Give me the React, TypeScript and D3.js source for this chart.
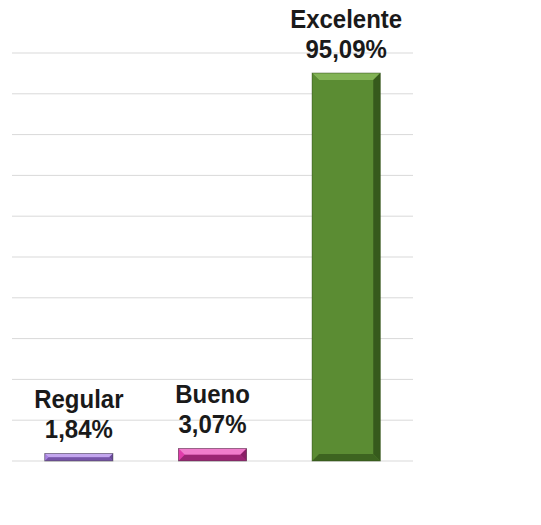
import React from "react";
import * as d3 from "d3";

const categories = ["Regular", "Bueno", "Excelente"];
const values = [1.84, 3.07, 95.09];
const valueLabels = ["1,84%", "3,07%", "95,09%"];
const gridTicks = [0, 10, 20, 30, 40, 50, 60, 70, 80, 90, 100];

const colors = [
  { main: "#a882e2", light: "#c3a6ee", dark: "#6a4a9a", edge: "#3a3a3a" },
  { main: "#e03cab", light: "#f07ccc", dark: "#8a1f66", edge: "#3a3a3a" },
  { main: "#5b8c33", light: "#82b355", dark: "#365a1c", edge: "#2e4a18" },
];

export default function App() {
  const W = 541, H = 525;
  const left = 12, right = 413, top = 53, bottom = 461;
  const x = d3.scaleBand<string>().domain(categories).range([left, right]).paddingInner(0.49).paddingOuter(0.245);
  const y = d3.scaleLinear().domain([0, 100]).range([bottom, top]);
  const bw = x.bandwidth();

  return (
    <svg width={W} height={H} style={{ position: "absolute", left: 0, top: 0, background: "#fff" }}
      fontFamily="'Liberation Sans', Arial, sans-serif">
      {gridTicks.map((t) => (
        <line key={t} x1={left} x2={right} y1={y(t)} y2={y(t)} stroke="#d9d9d9" strokeWidth={1} />
      ))}
      {categories.map((c, i) => {
        const x0 = x(c)!;
        const x1 = x0 + bw;
        const yt = y(values[i]);
        const yb = y(0);
        const h = yb - yt;
        const b = Math.min(7, h / 2);
        const col = colors[i];
        const cx = x0 + bw / 2;
        return (
          <g key={c}>
            <rect x={x0} y={yt} width={bw} height={h} fill={col.main} />
            <polygon points={`${x0},${yt} ${x1},${yt} ${x1 - b},${yt + b} ${x0 + b},${yt + b}`} fill={col.light} />
            <polygon points={`${x0},${yt} ${x0 + b},${yt + b} ${x0 + b},${yb - b} ${x0},${yb}`} fill={col.main} opacity={0.9} />
            <polygon points={`${x1},${yt} ${x1},${yb} ${x1 - b},${yb - b} ${x1 - b},${yt + b}`} fill={col.dark} />
            <polygon points={`${x0},${yb} ${x1},${yb} ${x1 - b},${yb - b} ${x0 + b},${yb - b}`} fill={col.dark} opacity={0.8} />
            <rect x={x0} y={yt} width={bw} height={h} fill="none" stroke={col.edge} strokeWidth={0.8} strokeOpacity={0.6} />
            <text transform={`translate(${cx},${yt - 45}) scale(1,1.08)`} textAnchor="middle" fontSize={24} fontWeight="bold" fill="#1a1a1a">{c}</text>
            <text transform={`translate(${cx},${yt - 15}) scale(1,1.08)`} textAnchor="middle" fontSize={24} fontWeight="bold" fill="#1a1a1a">{valueLabels[i]}</text>
          </g>
        );
      })}
    </svg>
  );
}
